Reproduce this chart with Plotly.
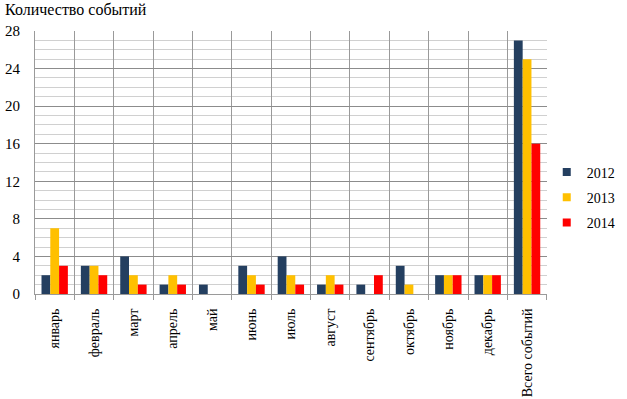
import plotly.graph_objects as go

categories = ["январь", "февраль", "март", "апрель", "май", "июнь", "июль",
              "август", "сентябрь", "октябрь", "ноябрь", "декабрь", "Всего событий"]
v2012 = [2, 3, 4, 1, 1, 3, 4, 1, 1, 3, 2, 2, 27]
v2013 = [7, 3, 2, 2, 0, 2, 2, 2, 0, 1, 2, 2, 25]
v2014 = [3, 2, 1, 1, 0, 1, 1, 1, 2, 0, 2, 2, 16]
series = [("2012", v2012, "#243F60"), ("2013", v2013, "#FFC000"), ("2014", v2014, "#FF0000")]

font = "Liberation Serif"
fig = go.Figure()
for name, vals, col in series:
    fig.add_trace(go.Bar(x=categories, y=vals, name=name, legendgroup=name, showlegend=False,
                         marker_color=col, marker_line=dict(width=0)))
for name, vals, col in series:
    # legend-only entry with a small square key
    fig.add_trace(go.Scatter(x=[None], y=[None], mode="markers", name=name, legendgroup=name,
                             marker=dict(symbol="square", size=8, color=col)))

fig.update_layout(
    width=627, height=399,
    margin=dict(l=35, r=70, t=31, b=105),
    paper_bgcolor="white", plot_bgcolor="white",
    barmode="group", bargap=0.33, bargroupgap=0,
    font=dict(family=font, size=14, color="black"),
    title=dict(text="Количество событий", x=0.008, xanchor="left", y=0.99, yanchor="top",
               pad=dict(t=0, b=0, l=0, r=0),
               font=dict(family=font, size=16, color="black")),
    legend=dict(xref="container", yref="container", x=0.872, xanchor="left",
                y=0.505, yanchor="middle", font=dict(family=font, size=14),
                itemwidth=30, tracegroupgap=4, bgcolor="rgba(0,0,0,0)"),
    showlegend=True,
)
fig.update_xaxes(type="category", tickson="boundaries", showgrid=True, gridcolor="#9a9a9a",
                 gridwidth=1, showline=True, linecolor="#9a9a9a", ticks="outside", ticklen=5,
                 tickcolor="#9a9a9a", tickangle=-90, ticklabelstandoff=8, automargin=False)
fig.update_yaxes(range=[0, 28], tickvals=[0, 4, 8, 12, 16, 20, 24, 28], showgrid=True,
                 gridcolor="#8c8c8c", gridwidth=1, showline=True, linecolor="#9a9a9a",
                 zeroline=False, ticks="", ticklabelstandoff=11, automargin=False,
                 tickfont=dict(size=15),
                 minor=dict(dtick=1, showgrid=True, gridcolor="#d0d0d0", gridwidth=1))
fig.write_html("out.html", config={"displayModeBar": False},
               post_script="document.body.style.margin='0';document.body.style.overflow='hidden';")
